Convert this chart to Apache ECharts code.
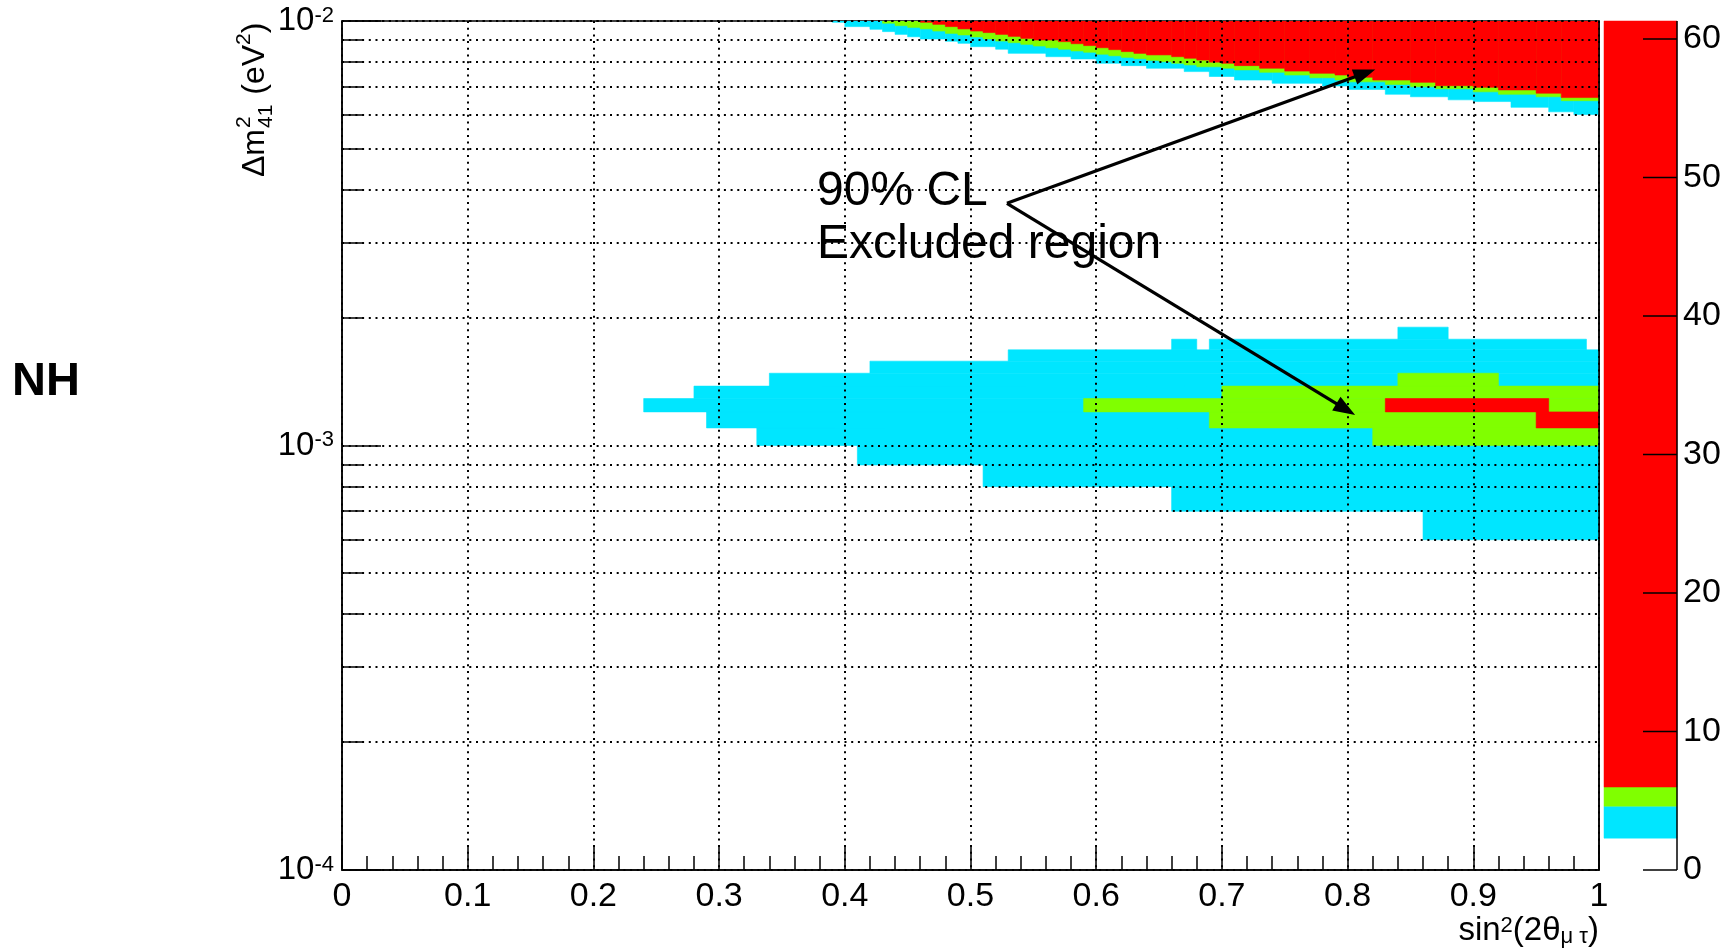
<!DOCTYPE html>
<html><head><meta charset="utf-8">
<script src="https://cdn.jsdelivr.net/npm/echarts@6/dist/echarts.min.js"></script>
<style>html,body{margin:0;padding:0;background:#fff}#c{width:1729px;height:951px}</style>
</head><body><div id="c"></div>
<script>
// ================= DATA =================
const xRange = [0, 1];                 // sin^2(2θμτ)
const yRange = [1e-4, 1e-2];           // Δm²41 (eV²)
const xTickStep = 0.1;
const yMinorTicks = [2e-4,3e-4,4e-4,5e-4,6e-4,7e-4,8e-4,9e-4,2e-3,3e-3,4e-3,5e-3,6e-3,7e-3,8e-3,9e-3];
const clLevels = [2.30, 4.61, 5.99];   // Δχ² contour levels (cyan, green, red start)
const zMax = 61.3;                     // top of colour scale
const colorbarTicks = [0, 10, 20, 30, 40, 50, 60];
const levelColors = ['#00E6FF', '#80FF00', '#FF0000'];

// Upper band: lower edge of each contour, [sin² start of step, Δm² lower edge]
const cyanTopEdge = [[0.39,9.93e-3],[0.40,9.70e-3],[0.42,9.56e-3],[0.43,9.44e-3],[0.44,9.30e-3],[0.45,9.18e-3],[0.46,9.07e-3],[0.48,8.96e-3],[0.49,8.86e-3],[0.50,8.70e-3],[0.52,8.58e-3],[0.53,8.39e-3],[0.56,8.24e-3],[0.58,8.14e-3],[0.60,7.95e-3],[0.62,7.85e-3],[0.64,7.74e-3],[0.67,7.60e-3],[0.69,7.40e-3],[0.71,7.26e-3],[0.74,7.13e-3],[0.78,7.03e-3],[0.80,6.90e-3],[0.83,6.72e-3],[0.85,6.63e-3],[0.88,6.52e-3],[0.90,6.46e-3],[0.93,6.26e-3],[0.96,6.11e-3],[0.98,6.02e-3]];
const greenTopEdge = [[0.43,9.88e-3],[0.44,9.75e-3],[0.45,9.66e-3],[0.46,9.58e-3],[0.47,9.47e-3],[0.48,9.35e-3],[0.49,9.27e-3],[0.50,9.17e-3],[0.51,9.07e-3],[0.52,8.97e-3],[0.53,8.89e-3],[0.54,8.81e-3],[0.55,8.73e-3],[0.56,8.65e-3],[0.57,8.58e-3],[0.58,8.50e-3],[0.59,8.44e-3],[0.60,8.35e-3],[0.61,8.28e-3],[0.62,8.21e-3],[0.63,8.15e-3],[0.64,8.08e-3],[0.65,8.02e-3],[0.66,7.95e-3],[0.67,7.88e-3],[0.68,7.80e-3],[0.70,7.74e-3],[0.71,7.67e-3],[0.73,7.57e-3],[0.75,7.46e-3],[0.77,7.35e-3],[0.79,7.26e-3],[0.80,7.19e-3],[0.83,7.09e-3],[0.85,7.00e-3],[0.87,6.92e-3],[0.90,6.81e-3],[0.92,6.72e-3],[0.95,6.63e-3],[0.97,6.49e-3]];
const redTopEdge = [[0.46,9.93e-3],[0.47,9.82e-3],[0.48,9.70e-3],[0.49,9.58e-3],[0.50,9.47e-3],[0.51,9.39e-3],[0.52,9.30e-3],[0.53,9.20e-3],[0.54,9.10e-3],[0.55,9.02e-3],[0.57,8.94e-3],[0.58,8.84e-3],[0.59,8.75e-3],[0.60,8.65e-3],[0.61,8.56e-3],[0.62,8.47e-3],[0.63,8.39e-3],[0.64,8.32e-3],[0.66,8.24e-3],[0.67,8.17e-3],[0.68,8.09e-3],[0.69,8.00e-3],[0.70,7.95e-3],[0.71,7.85e-3],[0.73,7.74e-3],[0.75,7.62e-3],[0.77,7.53e-3],[0.79,7.46e-3],[0.80,7.37e-3],[0.82,7.26e-3],[0.85,7.17e-3],[0.87,7.04e-3],[0.90,6.98e-3],[0.92,6.88e-3],[0.95,6.76e-3],[0.97,6.60e-3]];

// Lower island: rows [sin² from, sin² to, Δm² low, Δm² high]
const cyanIsland = [[0.86,1.00,0.60e-3,0.70e-3],[0.66,1.00,0.70e-3,0.80e-3],[0.51,1.00,0.80e-3,0.90e-3],[0.41,1.00,0.90e-3,1.00e-3],[0.33,1.00,1.00e-3,1.10e-3],[0.29,1.00,1.10e-3,1.20e-3],[0.24,1.00,1.20e-3,1.29e-3],[0.28,1.00,1.29e-3,1.38e-3],[0.34,1.00,1.38e-3,1.48e-3],[0.42,1.00,1.48e-3,1.58e-3],[0.53,1.00,1.58e-3,1.68e-3],[0.66,0.68,1.68e-3,1.78e-3],[0.69,0.99,1.68e-3,1.78e-3],[0.84,0.88,1.78e-3,1.90e-3]];
const greenIsland = [[0.82,1.00,1.00e-3,1.10e-3],[0.69,1.00,1.10e-3,1.20e-3],[0.59,1.00,1.20e-3,1.29e-3],[0.70,1.00,1.29e-3,1.38e-3],[0.84,0.92,1.38e-3,1.48e-3]];
const redIsland = [[0.95,1.00,1.10e-3,1.20e-3],[0.83,0.96,1.20e-3,1.29e-3]];

// Annotation arrows [x from, y from, x to, y to]
const arrows = [[0.529,3.72e-3,0.822,7.69e-3],[0.529,3.72e-3,0.806,1.18e-3]];
const annotationLines = ['90% CL', 'Excluded region'];

// ================= CHART =================
const FONT = '"Liberation Sans", Arial, Helvetica, sans-serif';
const chart = echarts.init(document.getElementById('c'), null, {renderer: 'canvas', width: 1729, height: 951});

// colour bar placement (layout)
const CB = {left: 1604, right: 1677, top: 21, bottom: 870, tickLen: 34};

function stepRects(edges) {
  return edges.map((e, i) => [e[0], i + 1 < edges.length ? edges[i + 1][0] : xRange[1], e[1], yRange[1]]);
}
function rectRender(color) {
  return function (params, api) {
    const a = api.coord([api.value(0), api.value(3)]);
    const b = api.coord([api.value(1), api.value(2)]);
    return {type: 'rect', shape: {x: a[0], y: a[1], width: b[0] - a[0], height: b[1] - a[1]},
      style: {fill: color, stroke: color, lineWidth: 0.6}};
  };
}
function regionSeries(data, color) {
  return {type: 'custom', xAxisIndex: 0, yAxisIndex: 0, clip: true, silent: true,
    dimensions: ['x0','x1','y0','y1'], encode: {x: [0, 1], y: [2, 3]},
    renderItem: rectRender(color), data: data};
}

const paletteData = clLevels.map((lv, i) => [0, lv, i + 1 < clLevels.length ? clLevels[i + 1] : zMax, i]);

const measure = document.createElement('canvas').getContext('2d');
function tw(text, size) { measure.font = size + 'px ' + FONT; return measure.measureText(text).width; }

// rotated y title  Δm^2_41 (eV^2)
const F = 32, FS = 21;
const yt = [];
let cx = 0;
yt.push({type: 'text', x: cx, y: -0.3465 * F, style: {text: 'Δm', font: F + 'px ' + FONT, fill: '#000', verticalAlign: 'middle'}});
cx += tw('Δm', F) + 1;
yt.push({type: 'text', x: cx, y: -0.45 * F - 0.3465 * FS, style: {text: '2', font: FS + 'px ' + FONT, fill: '#000', verticalAlign: 'middle'}});
yt.push({type: 'text', x: cx, y: 0.22 * F - 0.3465 * FS, style: {text: '41', font: FS + 'px ' + FONT, fill: '#000', verticalAlign: 'middle'}});
cx += tw('41', FS) + 1;
yt.push({type: 'text', x: cx, y: -0.3465 * F, style: {text: ' (eV', font: F + 'px ' + FONT, fill: '#000', verticalAlign: 'middle'}});
cx += tw(' (eV', F);
yt.push({type: 'text', x: cx, y: -0.45 * F - 0.3465 * FS, style: {text: '2', font: FS + 'px ' + FONT, fill: '#000', verticalAlign: 'middle'}});
cx += tw('2', FS);
yt.push({type: 'text', x: cx, y: -0.3465 * F, style: {text: ')', font: F + 'px ' + FONT, fill: '#000', verticalAlign: 'middle'}});

const dotted = [2, 4.7];
const gridLine = {color: '#000', width: 2, type: dotted};

chart.setOption({
  animation: false,
  backgroundColor: '#fff',
  grid: [
    {left: 342, right: 130, top: 21, bottom: 81, show: true, borderColor: '#000', borderWidth: 1.5, backgroundColor: 'transparent'},
    {left: CB.left, right: 1729 - CB.right, top: CB.top, bottom: 951 - CB.bottom}
  ],
  xAxis: [
    {gridIndex: 0, type: 'value', min: xRange[0], max: xRange[1], interval: xTickStep, z: 3,
      axisLine: {lineStyle: {color: '#000', width: 1.5}},
      axisTick: {inside: true, length: 25, lineStyle: {color: '#000', width: 1.5}},
      minorTick: {show: true, splitNumber: 5, length: 14, lineStyle: {color: '#000', width: 1.5}},
      axisLabel: {fontSize: 34, fontFamily: FONT, color: '#000', margin: 10},
      splitLine: {show: true, lineStyle: gridLine}},
    {gridIndex: 1, type: 'value', min: 0, max: 1, show: false}
  ],
  yAxis: [
    {gridIndex: 0, type: 'log', logBase: 10, min: yRange[0], max: yRange[1], z: 3,
      axisLine: {lineStyle: {color: '#000', width: 1.5}},
      axisTick: {inside: true, length: 39, lineStyle: {color: '#000', width: 1.5}},
      axisLabel: {margin: 8, color: '#000',
        formatter: v => '{b|10}{s|' + Math.round(Math.log10(v)) + '}',
        rich: {b: {fontSize: 33, fontFamily: FONT, color: '#000'}, s: {fontSize: 22, fontFamily: FONT, color: '#000', verticalAlign: 'top'}}},
      splitLine: {show: true, lineStyle: gridLine}},
    {gridIndex: 0, type: 'log', logBase: 10, min: yRange[0], max: yRange[1], position: 'right', z: 6,
      axisLine: {show: true, lineStyle: {color: '#000', width: 1.5}}, axisTick: {show: false}, axisLabel: {show: false}, splitLine: {show: false}},
    {gridIndex: 1, type: 'value', min: 0, max: zMax, interval: 10, position: 'right', z: 3,
      axisLine: {show: false}, axisTick: {show: false},
      axisLabel: {show: true, customValues: colorbarTicks, fontSize: 34, fontFamily: FONT, color: '#000', margin: 6},
      splitLine: {show: false}}
  ],
  series: [
    regionSeries(stepRects(cyanTopEdge).concat(cyanIsland), levelColors[0]),
    regionSeries(stepRects(greenTopEdge).concat(greenIsland), levelColors[1]),
    regionSeries(stepRects(redTopEdge).concat(redIsland), levelColors[2]),
    {type: 'custom', xAxisIndex: 0, yAxisIndex: 0, silent: true, clip: true,
      encode: {x: 0, y: 1}, data: yMinorTicks.map(v => [xRange[0], v]),
      renderItem: function (params, api) {
        const a = api.coord([api.value(0), api.value(1)]);
        const b = api.coord([xRange[1], api.value(1)]);
        const y = Math.round(a[1]);
        return {type: 'group', children: [
          {type: 'line', shape: {x1: a[0], y1: y, x2: b[0], y2: y}, style: {stroke: '#000', lineWidth: 2, lineDash: dotted}},
          {type: 'line', shape: {x1: a[0], y1: y, x2: a[0] + 22, y2: y}, style: {stroke: '#000', lineWidth: 1.5}}
        ]};
      }},
    {type: 'custom', xAxisIndex: 0, yAxisIndex: 0, silent: true, z: 10,
      encode: {x: [0, 2], y: [1, 3]}, data: arrows,
      renderItem: function (params, api) {
        const p0 = api.coord([api.value(0), api.value(1)]);
        const p1 = api.coord([api.value(2), api.value(3)]);
        const dx = p1[0] - p0[0], dy = p1[1] - p0[1], L = Math.hypot(dx, dy);
        const ux = dx / L, uy = dy / L, hl = 22, hw = 8;
        const bx = p1[0] - ux * hl, by = p1[1] - uy * hl;
        return {type: 'group', children: [
          {type: 'line', shape: {x1: p0[0], y1: p0[1], x2: bx + ux * 2, y2: by + uy * 2}, style: {stroke: '#000', lineWidth: 3.2}},
          {type: 'polygon', shape: {points: [[p1[0], p1[1]], [bx - uy * hw, by + ux * hw], [bx + uy * hw, by - ux * hw]]}, style: {fill: '#000'}}
        ]};
      }},
    // colour bar boxes (value range on the colour axis)
    {type: 'custom', xAxisIndex: 1, yAxisIndex: 2, silent: true,
      encode: {x: 0, y: [1, 2]}, data: paletteData,
      renderItem: function (params, api) {
        const yTop = api.coord([0, api.value(2)])[1];
        const yBot = api.coord([0, api.value(1)])[1];
        const c = levelColors[api.value(3)];
        return {type: 'rect', shape: {x: CB.left, y: yTop, width: CB.right - CB.left, height: yBot - yTop}, style: {fill: c, stroke: c, lineWidth: 0.5}};
      }}
  ],
  graphic: [
    {type: 'group', x: 266, y: 177, rotation: Math.PI / 2, children: yt},
    {type: 'text', x: 1599, y: 931, style: {text: 'sin{s|2}(2θ{u|μ τ})', font: '33px ' + FONT, fill: '#000', align: 'right', verticalAlign: 'middle',
      rich: {s: {fontSize: 22, fontFamily: FONT, verticalAlign: 'top'}, u: {fontSize: 22, fontFamily: FONT, verticalAlign: 'bottom'}}}},
    {type: 'text', x: 12, y: 382, style: {text: 'NH', font: 'bold 47px ' + FONT, fill: '#000', verticalAlign: 'middle'}},
    {type: 'text', x: 817, y: 192, z: 20, style: {text: annotationLines[0], font: '48px ' + FONT, fill: '#000', verticalAlign: 'middle'}},
    {type: 'text', x: 817, y: 245, z: 20, style: {text: annotationLines[1], font: '48px ' + FONT, fill: '#000', verticalAlign: 'middle'}}
  ]
});

// colour-bar axis line and ticks, positioned through the colour axis scale
const cbGraphics = [];
const yZero = chart.convertToPixel({yAxisIndex: 2}, 0);
const yTopZ = chart.convertToPixel({yAxisIndex: 2}, zMax);
cbGraphics.push({type: 'line', z: 50, shape: {x1: CB.right, y1: yZero, x2: CB.right, y2: yTopZ}, style: {stroke: '#000', lineWidth: 1.5}});
colorbarTicks.forEach(v => {
  const y = chart.convertToPixel({yAxisIndex: 2}, v);
  cbGraphics.push({type: 'line', z: 50, shape: {x1: CB.right - CB.tickLen, y1: y, x2: CB.right, y2: y}, style: {stroke: '#000', lineWidth: 1.5}});
});
chart.setOption({graphic: cbGraphics.map((g, i) => Object.assign({id: 'cb' + i}, g))});
</script></body></html>
